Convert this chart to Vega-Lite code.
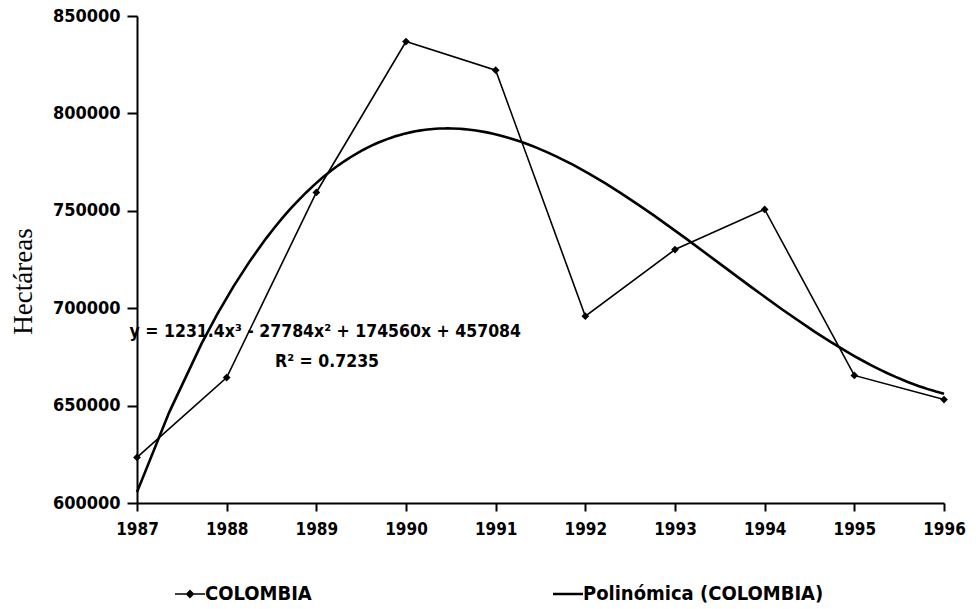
{
  "$schema": "https://vega.github.io/schema/vega-lite/v6.json",
  "width": 807,
  "height": 487,
  "autosize": {"type": "none"},
  "padding": {"left": 137, "top": 16, "right": 32, "bottom": 106},
  "background": "white",
  "config": {
    "view": {"stroke": null},
    "font": "DejaVu Sans Condensed",
    "axis": {
      "domainColor": "black",
      "domainWidth": 2,
      "tickColor": "black",
      "tickWidth": 2,
      "grid": false,
      "labelColor": "black",
      "labelFont": "DejaVu Sans Condensed",
      "labelFontWeight": "bold",
      "labelFontSize": 17
    }
  },
  "data": {
    "values": [
      {"year": 1987, "value": 623400},
      {"year": 1988, "value": 664400},
      {"year": 1989, "value": 759400},
      {"year": 1990, "value": 836900},
      {"year": 1991, "value": 822200},
      {"year": 1992, "value": 695900},
      {"year": 1993, "value": 730100},
      {"year": 1994, "value": 750700},
      {"year": 1995, "value": 665500},
      {"year": 1996, "value": 653100}
    ]
  },
  "layer": [
    {
      "mark": {"type": "line", "strokeWidth": 1.6, "point": {"shape": "diamond", "filled": true, "size": 60}},
      "encoding": {
        "x": {
          "field": "year", "type": "quantitative",
          "scale": {"domain": [1987, 1996], "nice": false, "zero": false},
          "axis": {"values": [1987,1988,1989,1990,1991,1992,1993,1994,1995,1996], "format": "d", "title": null, "tickSize": 8, "labelPadding": 10, "labelOverlap": false, "labelFlush": false}
        },
        "y": {
          "field": "value", "type": "quantitative",
          "scale": {"domain": [600000, 850000], "nice": false, "zero": false},
          "axis": {"values": [600000,650000,700000,750000,800000,850000], "format": "d", "title": "Hectáreas", "titleFont": "Liberation Serif", "titleFontSize": 27, "titleFontWeight": "normal", "titleColor": "black", "titlePadding": 15, "titleY": 265, "tickSize": 10, "labelPadding": 7, "labelFontSize": 18}
        },
        "color": {
          "datum": "COLOMBIA",
          "scale": {"domain": ["COLOMBIA", "Polinómica (COLOMBIA)"], "range": ["black", "black"]},
          "legend": {
            "title": null,
            "orient": "none",
            "legendX": 43,
            "legendY": 568,
            "direction": "horizontal",
            "columns": 2,
            "columnPadding": 236,
            "symbolSize": 900,
            "labelFont": "DejaVu Sans Condensed",
            "labelFontWeight": "bold",
            "labelFontSize": 20,
            "labelColor": "black",
            "labelOffset": 5,
            "labelLimit": 600,
            "encode": {
              "symbols": {
                "update": {
                  "shape": {"signal": "datum.value === 'COLOMBIA' ? 'M-1,0L1,0M-0.22,0L0,-0.22L0.22,0L0,0.22Z' : 'M-1,0L1,0'"},
                  "fill": {"value": "black"},
                  "stroke": {"value": "black"},
                  "strokeWidth": {"signal": "datum.value === 'COLOMBIA' ? 1.6 : 2.5"}
                }
              }
            }
          }
        }
      }
    },
    {
      "transform": [
        {"regression": "value", "on": "year", "method": "poly", "order": 3, "extent": [1987, 1996]}
      ],
      "mark": {"type": "line", "strokeWidth": 2.6},
      "encoding": {
        "x": {"field": "year", "type": "quantitative"},
        "y": {"field": "value", "type": "quantitative"},
        "color": {"datum": "Polinómica (COLOMBIA)"}
      }
    },
    {
      "data": {"values": [{"label": "y = 1231.4x³ - 27784x² + 174560x + 457084"}]},
      "mark": {"type": "text", "font": "DejaVu Sans Condensed", "fontWeight": "bold", "fontSize": 17.5, "color": "black", "align": "center", "baseline": "middle"},
      "encoding": {
        "x": {"datum": 1989.1},
        "y": {"datum": 688000},
        "text": {"field": "label"}
      }
    },
    {
      "data": {"values": [{"label": "R² = 0.7235"}]},
      "mark": {"type": "text", "font": "DejaVu Sans Condensed", "fontWeight": "bold", "fontSize": 17.5, "color": "black", "align": "center", "baseline": "middle"},
      "encoding": {
        "x": {"datum": 1989.12},
        "y": {"datum": 672600},
        "text": {"field": "label"}
      }
    }
  ]
}
